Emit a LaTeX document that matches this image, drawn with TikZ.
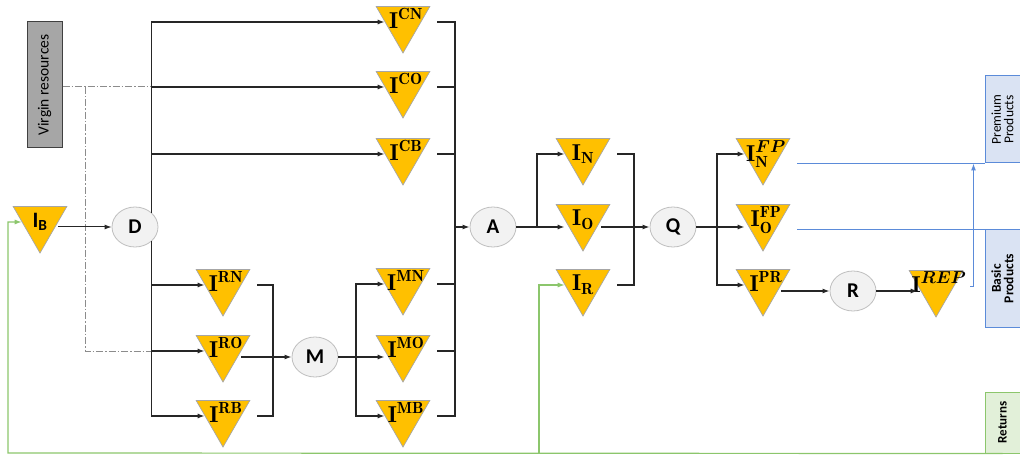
\documentclass[tikz,border=0pt]{standalone}
\usepackage{fontspec}
\usepackage{amsmath}
\usepackage{graphicx}
\newfontfamily\calibri{Carlito}
\usetikzlibrary{calc,positioning,shapes.geometric,arrows.meta}
\definecolor{stockfill}{HTML}{FFC000}
\definecolor{stockline}{HTML}{A6A6A6}
\definecolor{procfill}{HTML}{F2F2F2}
\definecolor{procline}{HTML}{BFBFBF}
\definecolor{vrfill}{HTML}{A6A6A6}
\definecolor{vrline}{HTML}{8C8C8C}
\definecolor{prodfill}{HTML}{DAE3F3}
\definecolor{prodline}{HTML}{5B8BD9}
\definecolor{retfill}{HTML}{E2F0D9}
\definecolor{retline}{HTML}{8CC66C}

\begin{document}
\begin{tikzpicture}[x=1pt,y=-1pt,>={Latex[length=7pt,width=5pt]},line width=1.5pt,font=\calibri,
  stock/.style={regular polygon,regular polygon sides=3,shape border rotate=180,minimum size=62pt,inner sep=0pt,fill=stockfill,draw=stockline,line width=0.7pt},
  stk/.style={inner sep=0pt,font=\fontsize{23}{26}\selectfont},
  sup/.style={stk,xshift=3pt,yshift=4pt},
  proc/.style={ellipse,minimum width=46pt,minimum height=40pt,inner sep=0pt,fill=procfill,draw=procline,line width=0.8pt,font=\calibri\bfseries\fontsize{21}{24}\selectfont},
  sidebox/.style={line width=1pt,inner sep=0pt,minimum width=35pt},
  outln/.style={shorten <=16pt},
  thinny/.style={line width=1pt},
  vline/.style={thinny,draw=vrline,dash pattern=on 7pt off 2pt on 1.5pt off 2pt},
  bline/.style={thinny,draw=prodline},
  gline/.style={line width=1.2pt,draw=retline}]
\useasboundingbox (0,0) rectangle (1020,457);

% sources and sinks
\node[sidebox,draw=black!75,fill=vrfill,minimum height=126pt,font=\calibri\fontsize{15.5}{18}\selectfont] (VR) at (44.5,85) {\rotatebox{90}{Virgin resources}};
\node[sidebox,draw=prodline,fill=prodfill,minimum height=87pt,font=\calibri\fontsize{13.5}{13}\selectfont] (PP) at (1002.5,119.5) {\rotatebox{90}{\shortstack{Premium\\Products}}};
\node[sidebox,draw=prodline,fill=prodfill,minimum height=97pt,font=\calibri\bfseries\fontsize{13.5}{13}\selectfont] (BP) at (1002.5,278.5) {\rotatebox{90}{\shortstack{Basic\\Products}}};
\node[sidebox,draw=retline,fill=retfill,minimum height=61pt,font=\calibri\bfseries\fontsize{13}{14}\selectfont] (RT) at (1002.5,422.5) {\rotatebox{90}{Returns}};

% processes
\node[proc] (D) at (135,227) {D};
\node[proc] (M) at (315,357) {M};
\node[proc] (A) at (493,227) {A};
\node[proc] (Q) at (673,227) {Q};
\node[proc] (R) at (853,291) {R};

% inventories
\node[stock,label={[stk,font=\calibri\bfseries\fontsize{22}{24}\selectfont]center:I\textsubscript{B}}] (IB) at (40,222) {};
\node[stock,label={[sup]center:$\mathbf{I}^{\mathbf{CN}}$}] (CN) at (403,22) {};
\node[stock,label={[sup]center:$\mathbf{I}^{\mathbf{CO}}$}] (CO) at (403,87) {};
\node[stock,label={[sup]center:$\mathbf{I}^{\mathbf{CB}}$}] (CB) at (403,154) {};
\node[stock,label={[sup]center:$\mathbf{I}^{\mathbf{RN}}$}] (RN) at (223,285) {};
\node[stock,label={[sup]center:$\mathbf{I}^{\mathbf{RO}}$}] (RO) at (223,351) {};
\node[stock,label={[sup]center:$\mathbf{I}^{\mathbf{RB}}$}] (RB) at (223,416) {};
\node[stock,label={[sup]center:$\mathbf{I}^{\mathbf{MN}}$}] (MN) at (403,284) {};
\node[stock,label={[sup]center:$\mathbf{I}^{\mathbf{MO}}$}] (MO) at (403,351) {};
\node[stock,label={[sup]center:$\mathbf{I}^{\mathbf{MB}}$}] (MB) at (403,416) {};
\node[stock,label={[stk]center:$\mathbf{I}_{\mathbf{N}}$}] (IN) at (583,154) {};
\node[stock,label={[stk]center:$\mathbf{I}_{\mathbf{O}}$}] (IO) at (583,220) {};
\node[stock,label={[stk]center:$\mathbf{I}_{\mathbf{R}}$}] (IR) at (583,285) {};
\node[stock,label={[stk,xshift=3pt]center:$\mathbf{I}^{\boldsymbol{FP}}_{\mathbf{N}}$}] (FPN) at (763,154) {};
\node[stock,label={[stk,xshift=3pt]center:$\mathbf{I}^{\mathbf{FP}}_{\mathbf{O}}$}] (FPO) at (763,220) {};
\node[stock,label={[sup]center:$\mathbf{I}^{\mathbf{PR}}$}] (PR) at (763,285) {};
\node[stock,label={[sup]center:$\mathbf{I}^{\boldsymbol{REP}}$}] (REP) at (936,286) {};

% junctions
\coordinate (vsplit) at (85,87);
\coordinate (mbus) at (273,357);
\coordinate (mfork) at (356,357);
\coordinate (abus) at (455,227);
\coordinate (afork) at (537,227);
\coordinate (qbus) at (634,227);
\coordinate (qfork) at (717,227);
\coordinate (rcorner) at (8,453);
\coordinate (rfork) at (539,453);

% virgin resources
\draw[vline] (VR.east |- vsplit) -- (D.north east |- vsplit);
\draw[vline] (vsplit) |- (D.south east |- RO);

\begin{scope}[draw=black!85]
\draw[->,thinny] (IB.east |- D) -- (D);
% disassembly
\draw[->] (D.north east) |- (CN);
\draw[->] (D.north east) |- (CO);
\draw[->] (D.north east) |- (CB);
\draw[->] (D.south east) |- (RN);
\draw[->] (D.south east) |- (RO);
\draw[->] (D.south east) |- (RB);
% remanufacturing
\draw[outln] (RN) -| (mbus);
\draw[outln] (RB) -| (mbus);
\draw[->] (RO.east |- M) -- (M);
\draw[->] (M) -- (M -| MO.west);
\draw[->] (mfork) |- (MN);
\draw[->] (mfork) |- (MB);
% assembly
\draw[outln] (CN) -| (abus);
\draw[outln] (CO) -| (abus);
\draw[outln] (CB) -| (abus);
\draw[outln] (MN) -| (abus);
\draw[outln] (MO) -| (abus);
\draw[outln] (MB) -| (abus);
\draw[->] (abus) -- (A);
\draw[->] (A) -- (A -| IO.west);
\draw[->] (afork) |- (IN);
% quality
\draw[outln] (IN) -| (qbus);
\draw[outln] (IR) -| (qbus);
\draw[->] (IO.east |- Q) -- (Q);
\draw[->] (Q) -- (Q -| FPO.west);
\draw[->] (qfork) |- (FPN);
\draw[->] (qfork) |- (PR);
\draw[->] (PR.east |- R) -- (R);
\draw[->] (R) -- (R -| REP.west);
\end{scope}

% products
\draw[bline,outln] (FPN.east |- PP.south west) -- (PP.south west);
\draw[bline,outln] (FPO.east |- BP.north west) -- (BP.north west);
\draw[bline,outln,->] (REP) -| ([xshift=-11pt]PP.south west);

% returns
\draw[gline,->] (RT.south) -- (rcorner) |- (IB);
\draw[gline,->] (rfork) |- (IR);

\end{tikzpicture}
\end{document}
